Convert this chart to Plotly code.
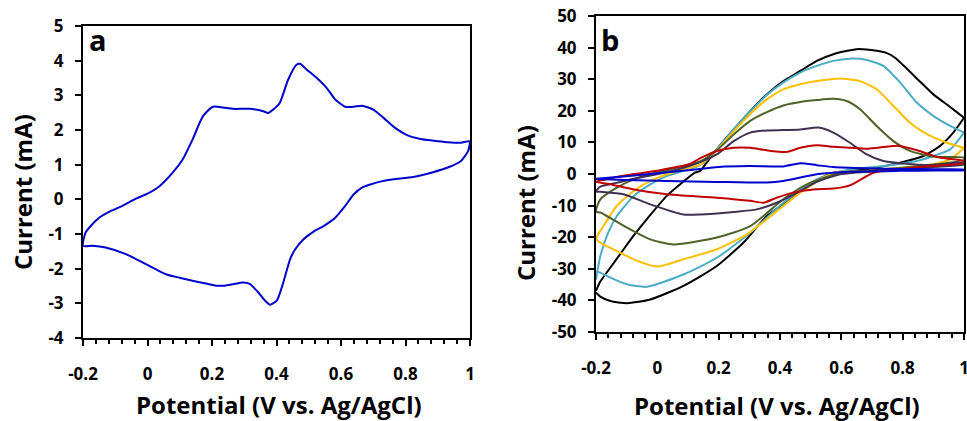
import plotly.graph_objects as go

# ---------------- Panel a data ----------------
a_fwd_v = [-0.2, -0.192, -0.176, -0.15, -0.119, -0.078, -0.036, -0.005, 0.037, 0.078, 0.109, 0.14, 0.172,
           0.203, 0.234, 0.265, 0.317, 0.359, 0.374, 0.39, 0.41, 0.436, 0.462, 0.473, 0.494, 0.525, 0.556,
           0.582, 0.613, 0.64, 0.665, 0.70, 0.732, 0.768, 0.805, 0.846, 0.888, 0.929, 0.966, 1.0]
a_fwd_i = [-1.34, -0.96, -0.77, -0.53, -0.36, -0.19, 0.02, 0.14, 0.38, 0.77, 1.15, 1.73, 2.40,
           2.67, 2.65, 2.61, 2.61, 2.54, 2.49, 2.59, 2.78, 3.45, 3.88, 3.91, 3.74, 3.50, 3.21,
           2.88, 2.67, 2.67, 2.70, 2.59, 2.35, 2.06, 1.85, 1.74, 1.69, 1.65, 1.63, 1.68]
a_rev_v = [1.0, 0.994, 0.971, 0.929, 0.888, 0.846, 0.805, 0.763, 0.722, 0.691, 0.665, 0.639, 0.613, 0.582,
           0.546, 0.515, 0.484, 0.458, 0.442, 0.421, 0.401, 0.38, 0.364, 0.343, 0.317, 0.296, 0.265, 0.239,
           0.213, 0.182, 0.14, 0.099, 0.057, 0.016, -0.026, -0.067, -0.13, -0.171, -0.2]
a_rev_i = [1.65, 1.39, 1.10, 0.91, 0.79, 0.69, 0.62, 0.58, 0.51, 0.43, 0.34, 0.14, -0.19, -0.53,
           -0.77, -0.93, -1.15, -1.44, -1.73, -2.40, -2.92, -3.04, -2.92, -2.68, -2.44, -2.40, -2.45, -2.49,
           -2.49, -2.43, -2.35, -2.26, -2.16, -1.97, -1.77, -1.58, -1.39, -1.34, -1.34]

# ---------------- Panel b data ----------------
bk_fwd_v = [-0.2, -0.187, -0.15, -0.12, -0.078, -0.03, 0.03, 0.08, 0.12, 0.14, 0.16, 0.194, 0.249, 0.303,
            0.357, 0.411, 0.466, 0.52, 0.574, 0.65, 0.715, 0.745, 0.775, 0.813, 0.857, 0.9, 0.955, 1.0]
bk_fwd_i = [-37.0, -34.2, -29.2, -25.2, -19.6, -13.8, -7.0, -2.8, 0.3, 1.0, 3.5, 7.8, 14.1, 19.9,
            25.2, 29.4, 32.6, 35.8, 37.9, 39.5, 39.0, 38.4, 36.8, 33.4, 29.2, 25.2, 21.2, 17.8]
bk_rev_v = [1.0, 0.965, 0.922, 0.868, 0.792, 0.683, 0.574, 0.52, 0.466, 0.411, 0.357, 0.281, 0.194, 0.085,
            -0.023, -0.099, -0.153, -0.186, -0.2]
bk_rev_i = [17.8, 13.1, 8.9, 5.7, 3.6, 1.5, 0.4, -2.0, -5.4, -9.5, -13.3, -21.7, -29.1, -35.4,
            -39.7, -40.9, -40.2, -38.8, -37.5]

cy_fwd_v = [-0.2, -0.186, -0.16, -0.132, -0.077, -0.023, 0.031, 0.085, 0.14, 0.194, 0.249, 0.303, 0.357,
            0.411, 0.466, 0.52, 0.574, 0.628, 0.683, 0.737, 0.792, 0.846, 0.9, 0.955, 1.0]
cy_fwd_i = [-33.5, -26.0, -18.5, -13.3, -7.0, -3.3, -0.6, 1.0, 2.8, 7.8, 14.1, 19.9, 25.0,
            29.0, 32.1, 34.2, 35.8, 36.5, 36.1, 34.2, 28.9, 22.6, 18.4, 15.2, 13.1]
cy_rev_v = [1.0, 0.955, 0.9, 0.846, 0.737, 0.628, 0.52, 0.411, 0.303, 0.194, 0.085, -0.034, -0.099,
            -0.153, -0.186, -0.2]
cy_rev_i = [13.1, 7.8, 5.7, 4.1, 2.5, 1.5, -1.7, -9.1, -18.6, -26.5, -31.8, -35.7, -34.9,
            -32.8, -31.2, -31.0]

ye_fwd_v = [-0.2, -0.176, -0.133, -0.077, -0.023, 0.064, 0.14, 0.194, 0.249, 0.303, 0.357, 0.411, 0.466,
            0.52, 0.596, 0.661, 0.715, 0.77, 0.824, 0.879, 0.944, 1.0]
ye_fwd_i = [-20.5, -16.5, -10.2, -5.4, -2.2, 0.95, 3.0, 7.5, 13.5, 19.0, 23.6, 26.8, 28.4,
            29.4, 30.2, 29.4, 26.8, 21.5, 16.2, 12.6, 9.9, 8.3]
ye_rev_v = [1.0, 0.955, 0.9, 0.792, 0.683, 0.574, 0.466, 0.357, 0.292, 0.194, 0.085, -0.001, -0.077,
            -0.132, -0.186, -0.2]
ye_rev_i = [8.3, 4.6, 3.1, 2.0, 0.95, 0.4, -5.9, -14.3, -19.1, -23.8, -27.0, -29.3, -27.0,
            -24.4, -21.7, -20.5]

ol_fwd_v = [-0.2, -0.186, -0.132, -0.077, -0.023, 0.085, 0.14, 0.194, 0.249, 0.303, 0.357, 0.411, 0.466,
            0.52, 0.574, 0.617, 0.661, 0.715, 0.77, 0.824, 0.9, 1.0]
ol_fwd_i = [-12.0, -8.0, -4.3, -1.7, -0.1, 2.5, 4.0, 7.5, 12.5, 16.8, 19.6, 21.7, 22.8,
            23.4, 23.8, 23.1, 20.5, 15.2, 10.4, 7.3, 5.5, 5.2]
ol_rev_v = [1.0, 0.9, 0.8, 0.7, 0.6, 0.487, 0.411, 0.303, 0.194, 0.053, -0.023, -0.099, -0.186, -0.2]
ol_rev_i = [4.5, 3.0, 2.0, 1.2, 0.5, -3.3, -8.0, -16.5, -20.1, -22.3, -20.7, -17.0, -12.2, -12.0]

pu_fwd_v = [-0.2, -0.186, -0.132, -0.077, -0.023, 0.031, 0.085, 0.14, 0.194, 0.249, 0.303, 0.357, 0.411,
            0.466, 0.525, 0.574, 0.628, 0.683, 0.737, 0.792, 0.9, 1.0]
pu_fwd_i = [-5.5, -4.0, -2.8, -1.5, -0.5, 0.6, 2.0, 3.8, 6.2, 10.4, 13.1, 13.8, 13.9,
            14.1, 14.7, 13.1, 9.9, 6.2, 4.1, 3.4, 2.8, 3.6]
pu_rev_v = [1.0, 0.9, 0.8, 0.7, 0.6, 0.52, 0.466, 0.389, 0.324, 0.249, 0.14, 0.085, -0.023, -0.11, -0.186, -0.2]
pu_rev_i = [3.0, 2.2, 1.5, 0.8, 0.0, -2.5, -5.4, -9.1, -11.2, -12.0, -12.8, -12.8, -9.6, -6.4, -5.6, -5.5]

rd_fwd_v = [-0.2, -0.15, -0.1, -0.05, 0.0, 0.05, 0.1, 0.15, 0.194, 0.249, 0.303, 0.357, 0.422, 0.466,
            0.52, 0.574, 0.628, 0.683, 0.725, 0.79, 0.855, 0.92, 1.0]
rd_fwd_i = [-2.4, -1.3, -0.4, 0.3, 1.0, 2.0, 3.0, 5.5, 7.3, 8.3, 8.3, 7.5, 7.0, 8.3,
            9.1, 8.6, 8.3, 8.0, 8.4, 8.9, 7.3, 5.2, 4.1]
rd_rev_v = [1.0, 0.888, 0.79, 0.705, 0.628, 0.574, 0.509, 0.444, 0.389, 0.346, 0.303, 0.194, 0.031,
            -0.077, -0.15, -0.2]
rd_rev_i = [3.5, 2.5, 1.5, 0.4, -3.6, -4.6, -4.9, -5.9, -7.5, -9.1, -8.5, -7.5, -6.4,
            -4.9, -3.3, -2.4]

bl_fwd_v = [-0.2, -0.1, 0.0, 0.1, 0.2, 0.3, 0.411, 0.466, 0.52, 0.574, 0.683, 0.8, 0.9, 1.0]
bl_fwd_i = [-1.5, -0.7, 0.2, 1.2, 2.2, 2.5, 2.4, 3.4, 2.8, 2.2, 1.8, 1.6, 1.5, 1.4]
bl_rev_v = [1.0, 0.9, 0.792, 0.628, 0.52, 0.411, 0.357, 0.194, 0.031, -0.1, -0.2]
bl_rev_i = [1.2, 1.1, 1.0, 0.7, -0.1, -2.2, -2.7, -2.5, -2.2, -1.9, -1.6]

curves_b = [
    ("#000000", bk_fwd_v, bk_fwd_i, bk_rev_v, bk_rev_i),
    ("#4BACC6", cy_fwd_v, cy_fwd_i, cy_rev_v, cy_rev_i),
    ("#FFC000", ye_fwd_v, ye_fwd_i, ye_rev_v, ye_rev_i),
    ("#4F6228", ol_fwd_v, ol_fwd_i, ol_rev_v, ol_rev_i),
    ("#403151", pu_fwd_v, pu_fwd_i, pu_rev_v, pu_rev_i),
    ("#C00000", rd_fwd_v, rd_fwd_i, rd_rev_v, rd_rev_i),
    ("#0000CC", bl_fwd_v, bl_fwd_i, bl_rev_v, bl_rev_i),
]

x_ticks = [-0.2, 0, 0.2, 0.4, 0.6, 0.8, 1]
x_ticktext = ["-0.2", "0", "0.2", "0.4", "0.6", "0.8", "1"]
ya_ticks = [-4, -3, -2, -1, 0, 1, 2, 3, 4, 5]
ya_ticktext = ["-4", "-3", "-2", "-1", "0", "1", "2", "3", "4", "5"]
yb_ticks = [-50, -40, -30, -20, -10, 0, 10, 20, 30, 40, 50]
yb_ticktext = ["-50", "-40", "-30", "-20", "-10", "0", "10", "20", "30", "40", "50"]

FONT = "Open Sans"
W, H = 967, 421

fig = go.Figure()
fig.add_trace(go.Scatter(x=a_fwd_v + a_rev_v, y=a_fwd_i + a_rev_i, mode="lines",
                         line=dict(color="#0000CC", width=2, shape="spline", smoothing=0.6),
                         xaxis="x", yaxis="y", showlegend=False))
for color, fv, fi, rv, ri in curves_b:
    fig.add_trace(go.Scatter(x=fv + rv, y=fi + ri, mode="lines",
                             line=dict(color=color, width=2, shape="spline", smoothing=0.6),
                             xaxis="x2", yaxis="y2", showlegend=False))

tickfont = dict(family=FONT, size=17, color="black", weight="bold")
axis_common = dict(showline=True, linecolor="black", linewidth=2, mirror=True, showgrid=False,
                   zeroline=False, ticks="outside", ticklen=6, tickwidth=2, tickcolor="black",
                   tickfont=tickfont, automargin=False, ticklabeloverflow="allow")
minor_x = dict(ticks="outside", dtick=0.04, tick0=-0.2, ticklen=4, tickwidth=2,
               tickcolor="black", showgrid=False)

fig.update_layout(
    width=W, height=H, margin=dict(l=0, r=0, t=0, b=0),
    paper_bgcolor="white", plot_bgcolor="white",
    xaxis=dict(domain=[83 / W, 470 / W], range=[-0.2, 1], tickvals=x_ticks, ticktext=x_ticktext,
               anchor="y", minor=minor_x, ticklabelstandoff=14, **axis_common),
    yaxis=dict(domain=[1 - 338 / H, 1 - 26 / H], range=[-4, 5], tickvals=ya_ticks, ticktext=ya_ticktext,
               anchor="x", ticklabelstandoff=8, **axis_common),
    xaxis2=dict(domain=[596 / W, 964 / W], range=[-0.2, 1], tickvals=x_ticks, ticktext=x_ticktext,
                anchor="y2", minor=minor_x, ticklabelstandoff=14, **axis_common),
    yaxis2=dict(domain=[1 - 332 / H, 1 - 16 / H], range=[-50, 50], tickvals=yb_ticks, ticktext=yb_ticktext,
                anchor="x2", ticklabelstandoff=8, **axis_common),
)

title_font = dict(family=FONT, size=24, color="black", weight="bold")
label_font = dict(family=FONT, size=29, color="black", weight="bold")
ann = [
    dict(text="Potential (V vs. Ag/AgCl)", x=279 / W, y=1 - 404 / H, font=title_font, textangle=0),
    dict(text="Current (mA)", x=23 / W, y=1 - 192 / H, font=title_font, textangle=-90),
    dict(text="Potential (V vs. Ag/AgCl)", x=777 / W, y=1 - 405 / H, font=title_font, textangle=0),
    dict(text="Current (mA)", x=525 / W, y=1 - 203 / H, font=title_font, textangle=-90),
    dict(text="a", x=98 / W, y=1 - 40 / H, font=label_font, textangle=0),
    dict(text="b", x=610 / W, y=1 - 40 / H, font=label_font, textangle=0),
]
for a in ann:
    fig.add_annotation(xref="paper", yref="paper", showarrow=False, xanchor="center", yanchor="middle", **a)

fig.write_html("out.html", config={"displayModeBar": False},
               post_script="document.body.style.margin='0';document.body.style.overflow='hidden';")
